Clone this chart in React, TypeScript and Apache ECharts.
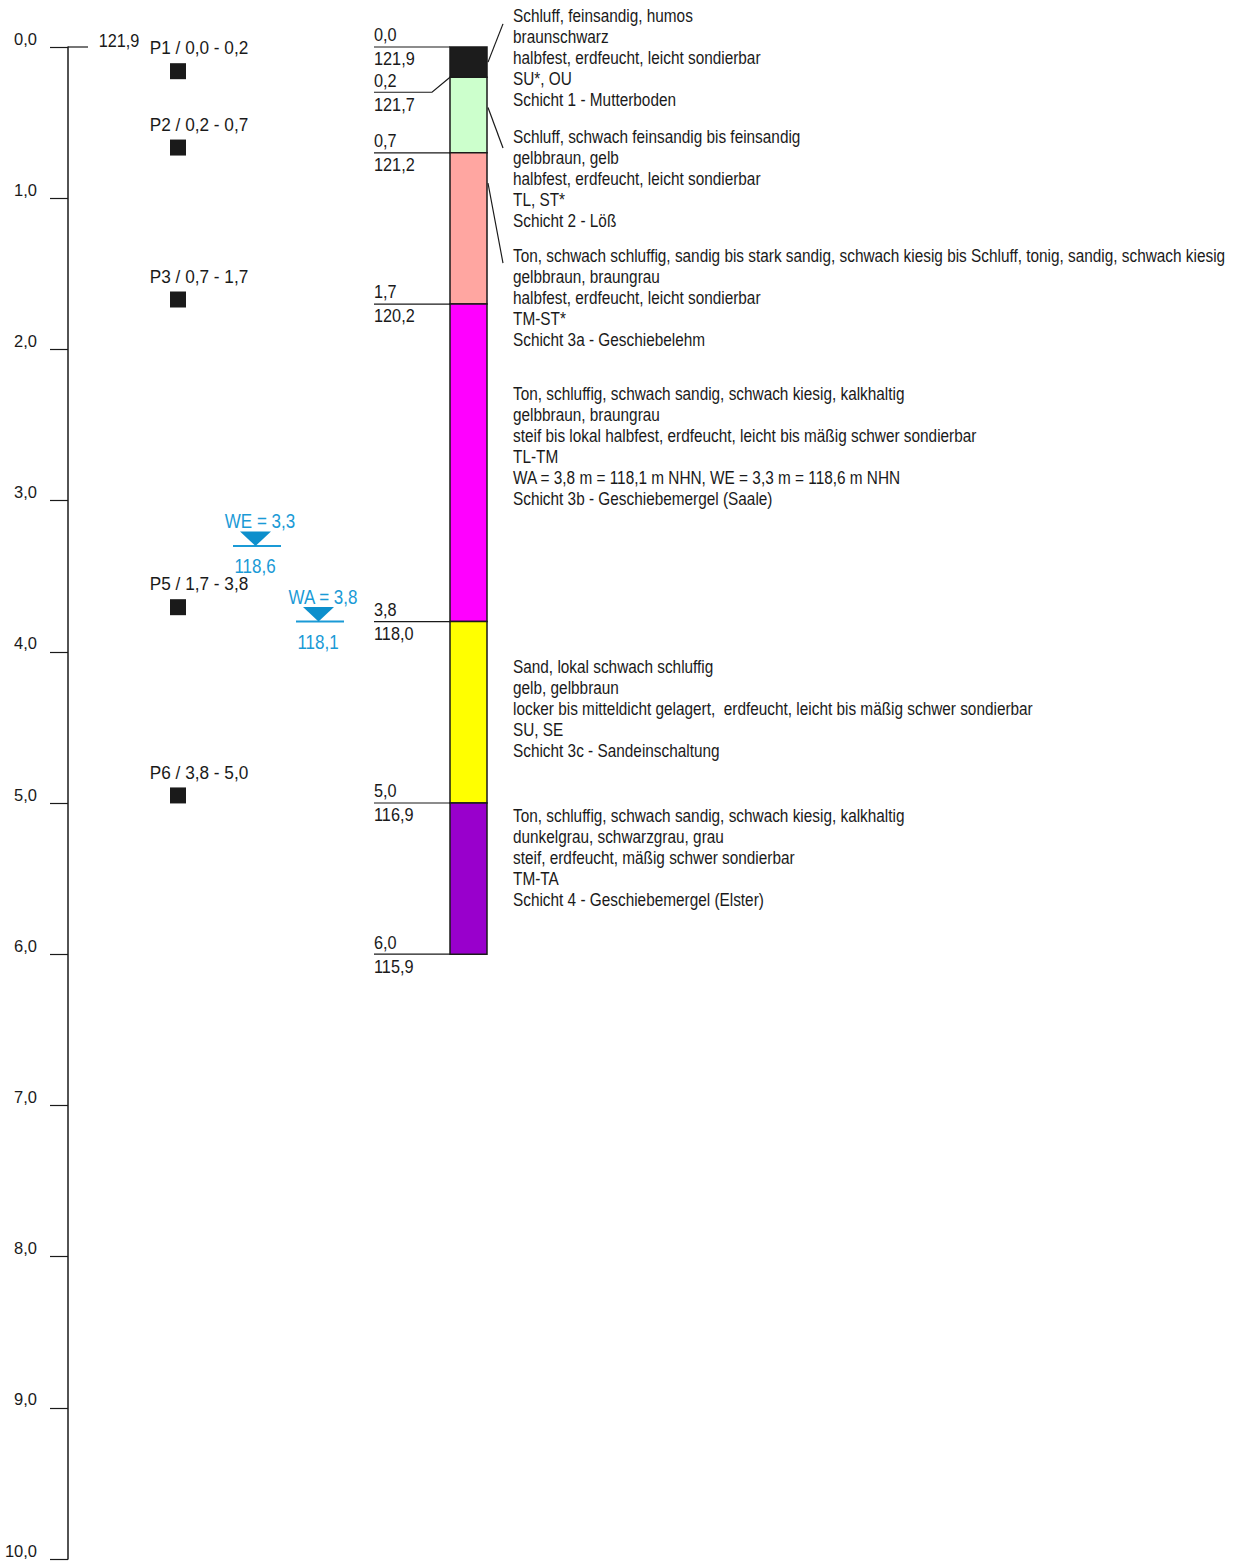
import React, { useEffect, useRef } from "react";
import * as echarts from "echarts";

// Borehole log: depth scale, layer column, samples, groundwater levels, layer descriptions.

const DEPTH_TICKS_MAX = 10;
const GROUND_ELEVATION = 121.9;

// Layer boundaries (m below ground) and their elevations (m NHN)
const BOUNDARY_DEPTHS = [0.0, 0.2, 0.7, 1.7, 3.8, 5.0, 6.0];
const BOUNDARY_ELEVATIONS = [121.9, 121.7, 121.2, 120.2, 118.0, 116.9, 115.9];

// Layer fills, top to bottom
const LAYER_COLORS = ["#1c1c1c", "#ccffcc", "#ffa6a1", "#ff00ff", "#ffff00", "#9900cc"];

// Samples: name, from, to, depth of marker
const SAMPLE_NAMES = ["P1", "P2", "P3", "P5", "P6"];
const SAMPLE_FROM = [0.0, 0.2, 0.7, 1.7, 3.8];
const SAMPLE_TO = [0.2, 0.7, 1.7, 3.8, 5.0];
const SAMPLE_MARK_DEPTH = [0.16, 0.665, 1.67, 3.705, 4.95];

// Groundwater: WE (end of drilling) and WA (first encountered)
const WATER_LABELS = ["WE", "WA"];
const WATER_DEPTHS = [3.3, 3.8];
const WATER_ELEVATIONS = [118.6, 118.1];

// Layer descriptions
const DESCRIPTIONS: string[][] = [
  [
    "Schluff, feinsandig, humos",
    "braunschwarz",
    "halbfest, erdfeucht, leicht sondierbar",
    "SU*, OU",
    "Schicht 1 - Mutterboden",
  ],
  [
    "Schluff, schwach feinsandig bis feinsandig",
    "gelbbraun, gelb",
    "halbfest, erdfeucht, leicht sondierbar",
    "TL, ST*",
    "Schicht 2 - Löß",
  ],
  [
    "Ton, schwach schluffig, sandig bis stark sandig, schwach kiesig bis Schluff, tonig, sandig, schwach kiesig",
    "gelbbraun, braungrau",
    "halbfest, erdfeucht, leicht sondierbar",
    "TM-ST*",
    "Schicht 3a - Geschiebelehm",
  ],
  [
    "Ton, schluffig, schwach sandig, schwach kiesig, kalkhaltig",
    "gelbbraun, braungrau",
    "steif bis lokal halbfest, erdfeucht, leicht bis mäßig schwer sondierbar",
    "TL-TM",
    "WA = 3,8 m = 118,1 m NHN, WE = 3,3 m = 118,6 m NHN",
    "Schicht 3b - Geschiebemergel (Saale)",
  ],
  [
    "Sand, lokal schwach schluffig",
    "gelb, gelbbraun",
    "locker bis mitteldicht gelagert,  erdfeucht, leicht bis mäßig schwer sondierbar",
    "SU, SE",
    "Schicht 3c - Sandeinschaltung",
  ],
  [
    "Ton, schluffig, schwach sandig, schwach kiesig, kalkhaltig",
    "dunkelgrau, schwarzgrau, grau",
    "steif, erdfeucht, mäßig schwer sondierbar",
    "TM-TA",
    "Schicht 4 - Geschiebemergel (Elster)",
  ],
];

// ---- layout (pixels) ----
const W = 1234;
const H = 1561;
const AXIS_X = 68;
const COL_LEFT = 450;
const COL_RIGHT = 487;
const BOUNDARY_LINE_X0 = 374;
const BOUNDARY_LABEL_SHIFT = [0, 15, 0, 0, 0, 0, 0];
const DESC_X = 513;
const DESC_FIRST_Y = [16, 137, 256, 394, 667, 816];
const DESC_LINE_H = 21.1;
const LEADERS: [number, number][] = [
  // [start depth on column edge, end depth at text]
  [0.1, -0.153],
  [0.4, 0.668],
  [0.9, 1.43],
];
const SAMPLE_X = 178;
const SAMPLE_LABEL_X = 199;
const WATER_X = [257, 320];

const FONT = '"Liberation Sans", Arial, sans-serif';
const FS = 18.5;
const INK = "#1a1a1a";
const BLUE = "#1a9ad6";
const BLUE_FILL = "#0d8fcc";

// horizontal squeeze to get a condensed face from Liberation Sans
const SQ_DESC = 0.83;
const SQ_NUM = 0.88;
const SQ_SAMPLE = 0.93;
const SQ_WATER = 0.85;

const fmt = (v: number) => v.toFixed(1).replace(".", ",");

export default function App() {
  const ref = useRef<HTMLDivElement>(null);

  useEffect(() => {
    if (!ref.current) return;
    const chart = echarts.init(ref.current, undefined, { renderer: "svg" });

    const text = (
      x: number,
      y: number,
      s: string,
      sq: number,
      fill = INK,
      align = "left",
      size = FS
    ) => ({
      type: "text",
      x,
      y,
      scaleX: sq,
      style: { text: s, fill, fontSize: size, fontFamily: FONT, align, verticalAlign: "middle" },
    });

    const layerData = LAYER_COLORS.map((c, i) => [BOUNDARY_DEPTHS[i], BOUNDARY_DEPTHS[i + 1]]);

    const descGraphics: any[] = [];
    DESCRIPTIONS.forEach((lines, b) => {
      lines.forEach((s, i) => {
        descGraphics.push(text(DESC_X, DESC_FIRST_Y[b] + i * DESC_LINE_H, s, SQ_DESC));
      });
    });

    const option: any = {
      animation: false,
      grid: { left: AXIS_X, right: 0, top: 47, bottom: H - 1559 },
      xAxis: { type: "value", min: AXIS_X, max: W, show: false },
      yAxis: {
        type: "value",
        inverse: true,
        min: 0,
        max: DEPTH_TICKS_MAX,
        interval: 1,
        axisLine: { show: true, lineStyle: { color: INK, width: 1.5 } },
        axisTick: { show: true, length: 18, lineStyle: { color: INK, width: 1.2 } },
        splitLine: { show: false },
        axisLabel: {
          formatter: (v: number) => fmt(v),
          fontSize: 16.5,
          fontFamily: FONT,
          color: INK,
          margin: 31,
          verticalAlign: "bottom",
          lineHeight: 17,
        },
      },
      graphic: descGraphics,
      series: [
        // top-of-ground marker with elevation
        {
          type: "custom",
          data: [[0, GROUND_ELEVATION]],
          renderItem: (p: any, api: any) => {
            const a = api.coord([AXIS_X, api.value(0)]);
            return {
              type: "group",
              children: [
                { type: "line", shape: { x1: a[0], y1: a[1], x2: a[0] + 20, y2: a[1] }, style: { stroke: INK, lineWidth: 1.2 } },
                text(119, a[1] - 6, fmt(api.value(1)), SQ_NUM, INK, "center"),
              ],
            };
          },
        },
        // layer column
        {
          type: "custom",
          data: layerData,
          renderItem: (p: any, api: any) => {
            const a = api.coord([COL_LEFT, api.value(0)]);
            const b = api.coord([COL_RIGHT, api.value(1)]);
            return {
              type: "rect",
              shape: { x: a[0], y: a[1], width: b[0] - a[0], height: b[1] - a[1] },
              style: { fill: LAYER_COLORS[p.dataIndex], stroke: INK, lineWidth: 1.5 },
            };
          },
        },
        // boundary lines with depth and elevation labels
        {
          type: "custom",
          data: BOUNDARY_DEPTHS.map((d, i) => [d, BOUNDARY_ELEVATIONS[i]]),
          renderItem: (p: any, api: any) => {
            const c = api.coord([COL_LEFT, api.value(0)]);
            const shift = BOUNDARY_LABEL_SHIFT[p.dataIndex];
            const y = c[1] + shift;
            const children: any[] = [];
            if (shift) {
              children.push({
                type: "polyline",
                shape: { points: [[BOUNDARY_LINE_X0, y], [432, y], [c[0], c[1]]] },
                style: { stroke: INK, lineWidth: 1.2, fill: null },
              });
            } else {
              children.push({
                type: "line",
                shape: { x1: BOUNDARY_LINE_X0, y1: y, x2: c[0], y2: y },
                style: { stroke: INK, lineWidth: 1.2 },
              });
            }
            children.push(text(BOUNDARY_LINE_X0, y - 12, fmt(api.value(0)), SQ_NUM));
            children.push(text(BOUNDARY_LINE_X0, y + 12, fmt(api.value(1)), SQ_NUM));
            return { type: "group", children };
          },
        },
        // leader lines from the column to the descriptions
        {
          type: "custom",
          data: LEADERS,
          renderItem: (p: any, api: any) => {
            const a = api.coord([COL_RIGHT + 1, api.value(0)]);
            const b = api.coord([503, api.value(1)]);
            return {
              type: "line",
              shape: { x1: a[0], y1: a[1], x2: b[0], y2: b[1] },
              style: { stroke: INK, lineWidth: 1.2 },
            };
          },
        },
        // samples
        {
          type: "custom",
          data: SAMPLE_NAMES.map((n, i) => [SAMPLE_MARK_DEPTH[i], SAMPLE_FROM[i], SAMPLE_TO[i]]),
          renderItem: (p: any, api: any) => {
            const c = api.coord([SAMPLE_X, api.value(0)]);
            const i = p.dataIndex;
            return {
              type: "group",
              children: [
                { type: "rect", shape: { x: c[0] - 8, y: c[1] - 8, width: 16, height: 16 }, style: { fill: INK } },
                text(
                  SAMPLE_LABEL_X,
                  c[1] - 23,
                  `${SAMPLE_NAMES[i]} / ${fmt(api.value(1))} - ${fmt(api.value(2))}`,
                  SQ_SAMPLE,
                  INK,
                  "center"
                ),
              ],
            };
          },
        },
        // groundwater levels
        {
          type: "custom",
          data: WATER_DEPTHS.map((d, i) => [d, WATER_ELEVATIONS[i]]),
          renderItem: (p: any, api: any) => {
            const i = p.dataIndex;
            const c = api.coord([WATER_X[i], api.value(0)]);
            const x = c[0];
            const y = c[1];
            return {
              type: "group",
              children: [
                { type: "line", shape: { x1: x - 24, y1: y, x2: x + 24, y2: y }, style: { stroke: BLUE, lineWidth: 2 } },
                {
                  type: "polygon",
                  shape: { points: [[x - 17, y - 14.5], [x + 14, y - 14.5], [x - 1.5, y]] },
                  style: { fill: BLUE_FILL },
                },
                text(x + 3, y - 24.5, `${WATER_LABELS[i]} = ${fmt(api.value(0))}`, SQ_WATER, BLUE, "center", 20),
                text(x - 2, y + 20, fmt(api.value(1)), SQ_WATER, BLUE, "center", 20),
              ],
            };
          },
        },
      ],
    };

    chart.setOption(option);
    return () => chart.dispose();
  }, []);

  return (
    <div
      ref={ref}
      style={{ position: "absolute", left: 0, top: 0, width: W, height: H, background: "#fff" }}
    />
  );
}
